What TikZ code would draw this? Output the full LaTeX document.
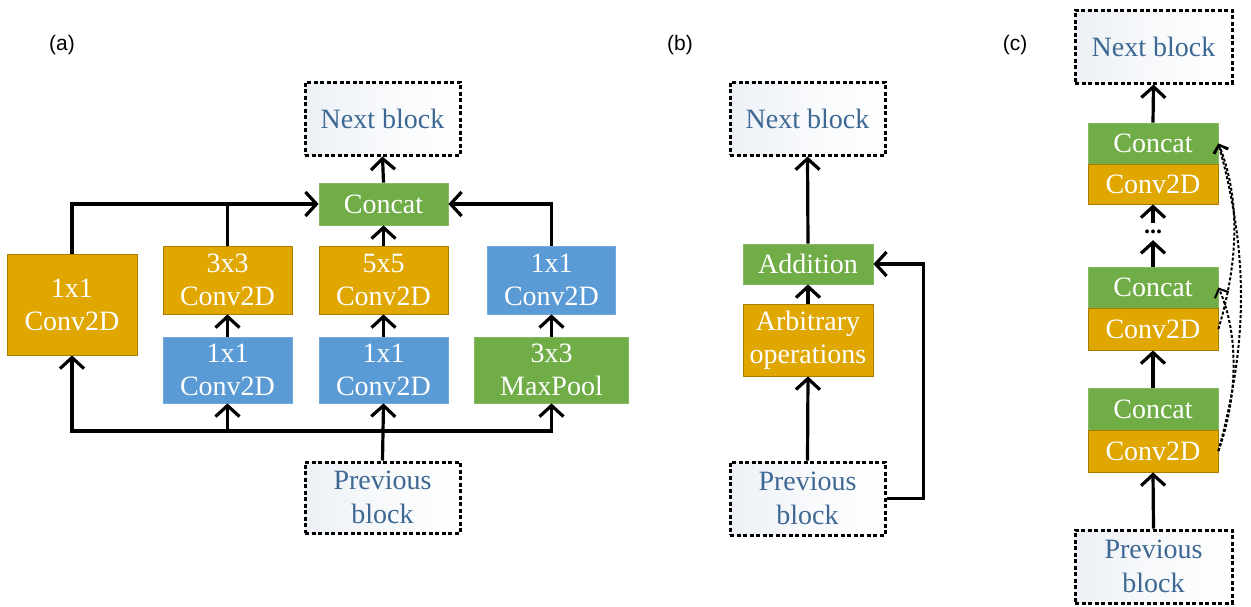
\documentclass[tikz,border=0pt]{standalone}
\usepackage{fontspec}
\setmainfont{Liberation Serif}
\newfontfamily\labfont{Liberation Sans}
\usetikzlibrary{arrows.meta}
\definecolor{cOrange}{RGB}{223,167,0}
\definecolor{cBlue}{RGB}{91,155,213}
\definecolor{cGreen}{RGB}{112,173,71}
\definecolor{cText}{RGB}{62,104,148}
\definecolor{cShade}{RGB}{236,240,245}
\tikzset{
  box/.style={draw, line width=0.8pt, text=white, align=center, inner sep=0pt,
    font=\fontsize{28}{33}\selectfont},
  obox/.style={box, fill=cOrange, draw=cOrange!75!black},
  bbox/.style={box, fill=cBlue, draw=cBlue!85!white},
  gbox/.style={box, fill=cGreen, draw=cGreen!85!white},
  dbox/.style={draw=black, line width=3pt, dash pattern=on 4pt off 2.5pt,
    left color=cShade, right color=white, middle color=cShade!40!white,
    text=cText, align=center, inner sep=0pt,
    minimum width=155pt, minimum height=73pt, font=\fontsize{28}{34}\selectfont},
  ln/.style={line width=3.2pt, draw=black},
  tipA/.tip={Straight Barb[length=11pt,width=24pt,line width=3.2pt]},
  tipD/.tip={Straight Barb[length=7pt,width=15pt,line width=2pt]},
  arr/.style={ln, -tipA},
  darr/.style={line width=2pt, dash pattern=on 3pt off 2pt, -tipD},
  lab/.style={font=\labfont\fontsize{21}{24}\selectfont, inner sep=0pt},
}
\begin{document}
\begin{tikzpicture}[x=1pt,y=-1pt]
\useasboundingbox (0,0) rectangle (1251,606);
% ---------- (a) ----------
\node[lab] (la) at (62,45) {(a)};
\node[dbox] (nextA) at (382.5,118.5) {Next block};
\node[gbox, minimum width=129pt, minimum height=42pt] (catA) at (383.5,204) {Concat};
\node[obox, minimum width=130pt, minimum height=101pt] (c1) at (72,304.5) {1x1\\Conv2D};
\node[obox, minimum width=129pt, minimum height=68pt] (c3) at (227.5,280) {3x3\\Conv2D};
\node[obox, minimum width=129pt, minimum height=68pt] (c5) at (383.5,280) {5x5\\Conv2D};
\node[bbox, minimum width=128pt, minimum height=68pt] (c1r) at (551.5,280) {1x1\\Conv2D};
\node[bbox, minimum width=129pt, minimum height=66pt] (b1) at (227.5,370) {1x1\\Conv2D};
\node[bbox, minimum width=129pt, minimum height=66pt] (b2) at (383.5,370) {1x1\\Conv2D};
\node[gbox, minimum width=154pt, minimum height=66pt] (mp) at (551.5,370) {3x3\\MaxPool};
\node[dbox, minimum height=71pt] (prevA) at (382.5,497.5) {Previous\\block};
\coordinate (bus) at (383.5,431);
\draw[arr] (catA.north) -- (nextA.south);
\draw[arr] (c1.north) |- (catA.west);
\draw[ln] (c3.north) -- (c3.north |- catA.west);
\draw[arr] (c1r.north) |- (catA.east);
\draw[arr] (c5.north) -- (catA.south);
\draw[arr] (b1.north) -- (c3.south);
\draw[arr] (b2.north) -- (c5.south);
\draw[arr] (mp.north) -- (c1r.south);
\draw[arr] (prevA.north) -- (b2.south);
\draw[arr] (bus) -| (c1.south);
\draw[arr] (bus) -| (b1.south);
\draw[arr] (bus) -| (mp.south);
% ---------- (b) ----------
\node[lab] (lb) at (680,45) {(b)};
\node[dbox] (nextB) at (807.5,118.5) {Next block};
\node[gbox, minimum width=130pt, minimum height=40pt] (add) at (808,264) {Addition};
\node[obox, minimum width=130pt, minimum height=72pt] (arb) at (808,340) {Arbitrary\\operations};
\node[dbox] (prevB) at (807.5,498.5) {Previous\\block};
\draw[arr] (prevB.north) -- (arb.south);
\draw[arr] (arb.north) -- (add.south);
\draw[arr] (add.north) -- (nextB.south);
\draw[arr] (prevB.east) -- ++(37,0) |- (add.east);
% ---------- (c) ----------
\node[lab] (lc) at (1015,45) {(c)};
\node[dbox, minimum width=157pt] (nextC) at (1153.5,46.5) {Next block};
\node[gbox, minimum width=130pt, minimum height=41pt] (cat3) at (1153,143.5) {Concat};
\node[obox, minimum width=130pt, minimum height=40pt] (cv3) at (1153,184) {Conv2D};
\node[font=\bfseries\fontsize{24}{26}\selectfont, inner sep=0pt] (dots) at (1153,232) {...};
\node[gbox, minimum width=130pt, minimum height=41pt] (cat2) at (1153,287.5) {Concat};
\node[obox, minimum width=130pt, minimum height=42pt] (cv2) at (1153,329) {Conv2D};
\node[gbox, minimum width=130pt, minimum height=42pt] (cat1) at (1153,409) {Concat};
\node[obox, minimum width=130pt, minimum height=42pt] (cv1) at (1153,451) {Conv2D};
\node[dbox, minimum width=157pt] (prevC) at (1153.5,566.5) {Previous\\block};
\draw[arr] (cat3.north) -- (nextC.south);
\draw[arr] ([yshift=7pt]dots.north) -- (cv3.south);
\draw[arr] (cat2.north) -- ([yshift=-6pt]dots.south);
\draw[arr] (cat1.north) -- (cv2.south);
\draw[arr] (prevC.north) -- (cv1.south);
\draw[darr] (cv1.east) .. controls +(18,-50) and +(22,50) .. (cat2.east);
\draw[darr] (cv1.east) .. controls +(30,-110) and +(30,110) .. (cat3.east);
\draw[darr] (cv2.east) .. controls +(18,-60) and +(24,60) .. (cat3.east);
\end{tikzpicture}
\end{document}
